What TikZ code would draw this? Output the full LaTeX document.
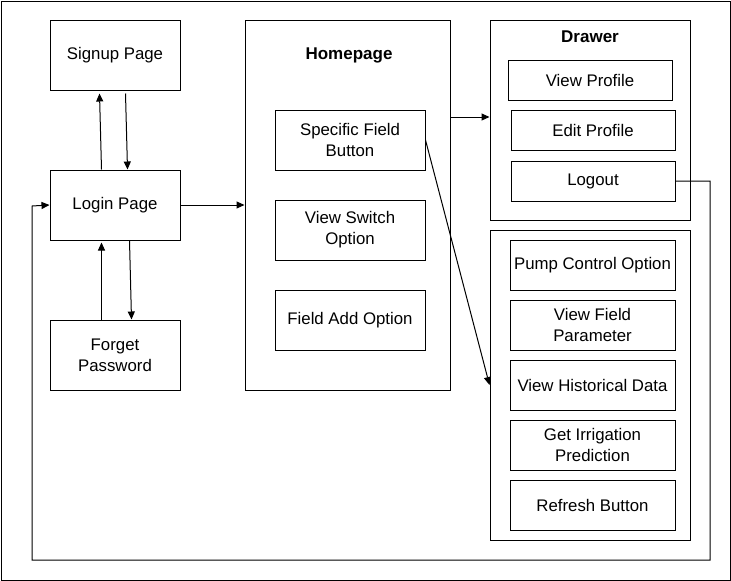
\documentclass[tikz,border=0pt]{standalone}
\usepackage{fontspec}
\setmainfont{Liberation Sans}
\usetikzlibrary{arrows.meta}
\begin{document}
\begin{tikzpicture}[x=1pt,y=-1pt,
  every node/.style={font=\fontsize{16.8}{21}\selectfont, align=center, inner sep=0pt},
  boxnode/.style={draw, line width=1pt, minimum width=#1, minimum height=60pt},
  boxnode/.default=130pt,
  btn/.style={draw, line width=1pt, minimum width=164pt, minimum height=#1},
  btn/.default=40pt,
  container/.style={draw, line width=1pt},
  title/.style={font=\fontsize{17}{21}\selectfont\bfseries},
  arr/.style={line width=1pt, -{Triangle[length=8pt,width=7pt]}}
]
\useasboundingbox (0,0) rectangle (731,581);
\draw[line width=1pt] (1,1) rectangle (730,580);

% left column
\node[boxnode, minimum height=70pt] (signup) at (115,55) {Signup Page};
\node[boxnode, minimum height=70pt] (login) at (115,205) {Login Page};
\node[boxnode, minimum height=70pt] (forget) at (115,355) {Forget\\Password};

% homepage container
\node[container, minimum width=205pt, minimum height=370pt] (home) at (347.5,205) {};
\node[title] (hometitle) at (349,55) {Homepage};
\node[draw, line width=1pt, minimum width=150pt, minimum height=60pt] (specific) at (350,140) {Specific Field\\Button};
\node[draw, line width=1pt, minimum width=150pt, minimum height=60pt] (viewswitch) at (350,230) {View Switch\\Option};
\node[draw, line width=1pt, minimum width=150pt, minimum height=60pt] (fieldadd) at (350,320) {Field Add Option};

% drawer container
\node[container, minimum width=200pt, minimum height=200pt] (drawer) at (590,120) {};
\node[title] (drawertitle) at (590,37) {Drawer};
\node[btn] (viewprofile) at (590,80) {View Profile};
\node[btn] (editprofile) at (593,130) {Edit Profile};
\node[btn] (logout) at (593,181) {Logout};

% field container
\node[container, minimum width=200pt, minimum height=310pt] (field) at (590,385) {};
\node[btn=50pt, minimum width=165pt] (pump) at (592.5,265) {Pump Control Option};
\node[btn=50pt, minimum width=165pt] (param) at (592.5,325) {View Field\\Parameter};
\node[btn=50pt, minimum width=165pt] (hist) at (592.5,385) {View Historical Data};
\node[btn=50pt, minimum width=165pt] (irrig) at (592.5,445) {Get Irrigation\\Prediction};
\node[btn=50pt, minimum width=165pt] (refresh) at (592.5,505) {Refresh Button};

% connectors
\draw[arr] ([xshift=52pt]login.north west) -- ([xshift=50pt,yshift=-3pt]signup.south west);
\draw[arr] ([xshift=76pt,yshift=-3pt]signup.south west) -- ([xshift=78pt]login.north west);
\draw[arr] (login.east) -- (home.west);
\draw[arr] ([xshift=52pt]forget.north west) -- ([xshift=52pt,yshift=-2pt]login.south west);
\draw[arr] ([xshift=80pt]login.south west) -- ([xshift=82pt]forget.north west);
\draw[arr] ([yshift=-2pt]home.east) ++(0,-90) coordinate (hx) -- (hx -| drawer.west);
\draw[arr] (specific.east) -- (field.west);
\coordinate (c1) at (710,181);
\coordinate (c2) at (710,560);
\coordinate (c3) at (32,560);
\coordinate (c4) at (32,206);
\draw[arr] (logout.east) -- (c1) -- (c2) -- (c3) -- (c4) -- (login.west);
\end{tikzpicture}
\end{document}
